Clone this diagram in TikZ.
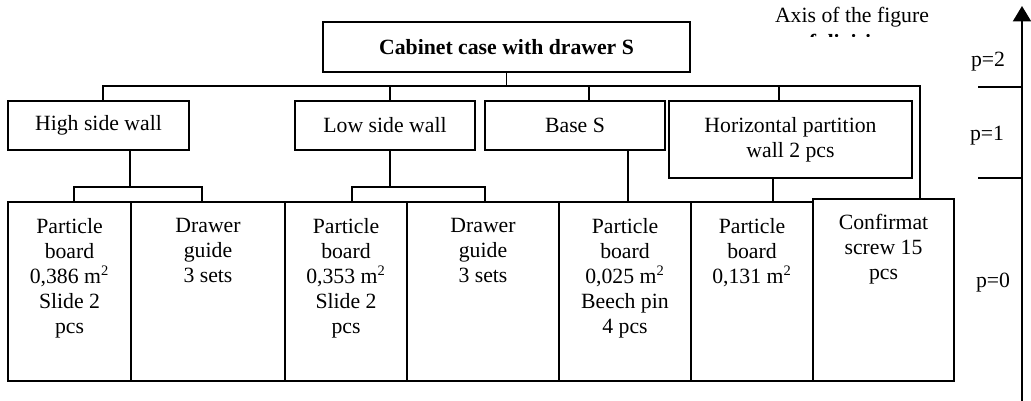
\documentclass[tikz,border=0pt]{standalone}
\usepackage{fontspec}
\setmainfont{Liberation Serif}
\usetikzlibrary{arrows.meta,calc}

% box from (x1,y1) to (x2,y2), in the picture's units
\newcommand\rbox[6]{%
  \node[box, minimum width={(#4-#2)*0.552pt}, minimum height={(#5-#3)*0.552pt}]
    (#1) at ({(#2+#4)/2},{(#3+#5)/2}) {#6};}

\begin{document}
\begin{tikzpicture}[x=0.552pt, y=-0.552pt,
  box/.style={draw, line width=0.9pt, inner sep=0pt, outer sep=0pt, align=center,
              font=\fontsize{12}{13.8}\selectfont},
  conn/.style={line width=0.9pt},
  txt/.style={inner sep=0pt, align=center, font=\fontsize{12}{13.8}\selectfont},
  lbl/.style={txt, anchor=north}]
\useasboundingbox (0,0) rectangle (1031,400);

% level 2
\rbox{top}{323}{22}{690}{72}{\bfseries Cabinet case with drawer S}

% level 1
\rbox{hsw}{8}{101}{189}{150}{High side wall}
\rbox{lsw}{295}{101}{475}{150}{Low side wall}
\rbox{bs}{485}{101}{665}{150}{Base S}
\rbox{hp}{669}{101}{912}{178}{Horizontal partition\\wall 2 pcs}

% level 0
\rbox{pb1}{8}{202}{131}{381}{}
\rbox{dg1}{131}{202}{285}{381}{}
\rbox{pb2}{285}{202}{407}{381}{}
\rbox{dg2}{407}{202}{559}{381}{}
\rbox{pb3}{559}{202}{691}{381}{}
\rbox{pb4}{691}{202}{813}{381}{}
\rbox{conf}{813}{199}{954}{381}{}

\node[lbl] at ($(pb1.north)+(0,16)$) {Particle\\board\\0,386 m\textsuperscript{2}\\Slide 2\\pcs};
\node[lbl] at ($(dg1.north)+(0,16)$) {Drawer\\guide\\3 sets};
\node[lbl] at ($(pb2.north)+(0,16)$) {Particle\\board\\0,353 m\textsuperscript{2}\\Slide 2\\pcs};
\node[lbl] at ($(dg2.north)+(0,16)$) {Drawer\\guide\\3 sets};
\node[lbl] at ($(pb3.north)+(0,16)$) {Particle\\board\\0,025 m\textsuperscript{2}\\Beech pin\\4 pcs};
\node[lbl] at ($(pb4.north)+(0,16)$) {Particle\\board\\0,131 m\textsuperscript{2}};
\node[lbl] at ($(conf.north)+(0,15)$) {Confirmat\\screw 15\\pcs};

% junction points
\coordinate (busL) at (103,86);
\coordinate (busR) at (920,86);
\coordinate (jlsw) at (390,86);
\coordinate (jbs)  at (589,86);
\coordinate (jhp)  at (779,86);
\coordinate (khsw) at (130,187);
\coordinate (b1)   at (74,187);
\coordinate (b2)   at (202,187);
\coordinate (klsw) at (390,187);
\coordinate (b3)   at (352,187);
\coordinate (b4)   at (485,187);
\coordinate (kbs)  at (628,150);
\coordinate (khp)  at (773,178);

% level 2 -> level 1
\draw[conn] (top.south) -- (top.south |- busL);
\draw[conn] (busL |- hsw.north) -- (busL) -- (busR) -- (busR |- conf.north);
\draw[conn] (jlsw) -- (jlsw |- lsw.north);
\draw[conn] (jbs) -- (jbs |- bs.north);
\draw[conn] (jhp) -- (jhp |- hp.north);

% level 1 -> level 0
\draw[conn] (khsw |- hsw.south) -- (khsw);
\draw[conn] (b1 |- pb1.north) -- (b1) -- (b2) -- (b2 |- dg1.north);
\draw[conn] (klsw |- lsw.south) -- (klsw);
\draw[conn] (b3 |- pb2.north) -- (b3) -- (b4) -- (b4 |- dg2.north);
\draw[conn] (kbs |- bs.south) -- (kbs |- pb3.north);
\draw[conn] (khp |- hp.south) -- (khp |- pb4.north);

% axis of levels
\coordinate (axB) at (1022,402);
\coordinate (axT) at (1022,6);
\draw[conn, -{Triangle[width=10pt,length=8.5pt]}] (axB) -- (axT);
\coordinate (t2) at (978,87);
\coordinate (t1) at (978,178);
\draw[conn] (t2) -- (t2 -| axB);
\draw[conn] (t1) -- (t1 -| axB);
\node[txt] (p2) at (988,62) {p=2};
\node[txt] (p1) at (987,136) {p=1};
\node[txt] (p0) at (993,283) {p=0};

\node[txt] (axlbl) at (852,17) {Axis of the figure};
\begin{scope}
  \clip (780,32) rectangle (930,36);
  \node[txt, anchor=base] at (846,49) {\bfseries of division};
\end{scope}
\end{tikzpicture}
\end{document}
